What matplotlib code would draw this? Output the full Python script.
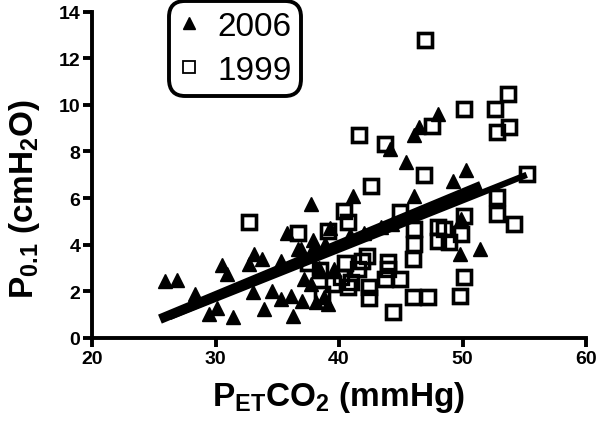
import matplotlib
matplotlib.use("Agg")
import matplotlib.pyplot as plt
import numpy as np

plt.rcParams['font.family'] = ['Liberation Sans', 'DejaVu Sans']
plt.rcParams['mathtext.fontset'] = 'custom'
plt.rcParams['mathtext.rm'] = 'Liberation Sans:bold'
plt.rcParams['mathtext.bf'] = 'Liberation Sans:bold'
plt.rcParams['mathtext.it'] = 'Liberation Sans:bold'

# 2006 (triangles)
x2006 = [25.9, 26.9, 29.5, 30.1, 31.4, 30.5, 30.9, 32.7, 33.1, 33.8, 35.3, 35.8,
         36.7, 33.9, 35.3, 36.1, 36.3, 33.0, 36.9, 38.0, 38.9, 37.7, 41.1, 37.0,
         38.1, 38.8, 39.1, 37.2, 37.7, 39.6, 46.1, 49.2, 50.3, 48.0, 46.5, 46.1,
         44.1, 45.4, 49.8, 51.4, 49.9, 40.9, 39.3, 37.9, 43.4, 44.3, 42.0, 38.4,
         34.6, 28.3]
y2006 = [2.45, 2.5, 1.05, 1.3, 0.9, 3.13, 2.75, 3.18, 3.6, 3.4, 3.3, 4.5,
         3.8, 1.25, 1.67, 1.8, 0.95, 1.97, 3.8, 3.96, 4.03, 5.75, 6.1, 1.6,
         1.54, 1.76, 1.46, 2.53, 2.3, 2.96, 6.1, 6.75, 7.2, 9.6, 9.04, 8.7,
         8.1, 7.55, 3.6, 3.8, 5.1, 4.4, 4.7, 4.2, 4.76, 4.9, 4.5, 3.0,
         2.0, 1.9]

# 1999 (open squares)
x1999 = [32.7, 36.7, 42.6, 40.4, 39.1, 40.7, 42.3, 44.0, 40.2, 41.0, 42.4, 42.4,
         44.0, 44.4, 40.7, 41.5, 46.9, 44.9, 50.1, 48.0, 48.5, 49.9, 48.0, 48.9,
         46.1, 46.0, 44.9, 43.7, 50.1, 46.0, 47.2, 49.8, 46.1, 50.1, 47.5, 41.6,
         43.7, 47.0, 53.7, 52.6, 52.8, 53.8, 55.2, 52.8, 52.8, 54.2, 38.5, 39.5,
         38.6, 37.5, 40.5, 41.9]
y1999 = [4.96, 4.5, 6.5, 5.46, 4.6, 4.97, 3.5, 3.25, 2.6, 2.4, 2.2, 1.7,
         2.96, 1.1, 2.2, 2.96, 6.97, 5.4, 5.25, 4.75, 4.68, 4.46, 4.18, 4.1,
         4.03, 3.39, 2.53, 2.53, 2.6, 1.76, 1.76, 1.8, 4.68, 9.8, 9.1, 8.7,
         8.3, 12.76, 10.47, 9.8, 8.84, 9.05, 7.04, 6.05, 5.3, 4.9, 2.9, 2.3,
         1.9, 3.2, 3.2, 3.3]

# regression lines: [x_start, x_end], slope, intercept
fit2006_x = [25.5, 51.5]
fit2006_coef = [0.22, -4.8]
fit1999_x = [26.3, 55.2]
fit1999_coef = [0.211, -4.65]

fig = plt.figure(figsize=(6, 4.27), dpi=100)
ax = fig.add_axes([92 / 600, 1 - 339 / 427, (586 - 92) / 600, (339 - 12.5) / 427])

ax.plot(x2006, y2006, linestyle='none', marker='^', ms=10, color='black', zorder=3)
ax.plot(x1999, y1999, linestyle='none', marker='s', ms=10, mfc='white',
        mec='black', mew=2.4, zorder=2)
ax.plot(x1999, y1999, linestyle='none', marker='s', ms=10, mfc='none',
        mec='black', mew=2.4, zorder=4)

fx = np.array(fit2006_x)
ax.plot(fx, np.polyval(fit2006_coef, fx), color='black', lw=7,
        solid_capstyle='butt', zorder=5)
fx = np.array(fit1999_x)
ax.plot(fx, np.polyval(fit1999_coef, fx), color='black', lw=4.5,
        solid_capstyle='butt', zorder=5)

ax.set_xlim(20, 60)
ax.set_ylim(0, 14)
ax.set_xticks([20, 30, 40, 50, 60])
ax.set_yticks(range(0, 15, 2))
for s in ['top', 'right']:
    ax.spines[s].set_visible(False)
for s in ['left', 'bottom']:
    ax.spines[s].set_linewidth(2.8)
ax.tick_params(axis='both', width=2.8, length=6.5, labelsize=14, pad=2)
for lab in ax.get_xticklabels() + ax.get_yticklabels():
    lab.set_fontweight('bold')

ax.set_xlabel(r'P$_{ET}$CO$_2$ (mmHg)', fontsize=24, fontweight='bold', va='center')
ax.set_ylabel(r'P$_{0.1}$ (cmH$_2$O)', fontsize=24, fontweight='bold', va='center')
ax.xaxis.set_label_coords(0.5, -0.178)
ax.yaxis.set_label_coords(-0.136, 0.43)

h1, = ax.plot([], [], linestyle='none', marker='^', ms=8, color='black')
h2, = ax.plot([], [], linestyle='none', marker='s', ms=8, mfc='white',
              mec='black', mew=1.3)
leg = ax.legend([h1, h2], ['2006', '1999'], loc='upper left',
                bbox_to_anchor=(172 / 600, 1 - 5 / 427),
                bbox_transform=fig.transFigure, borderaxespad=0,
                fontsize=24, handlelength=0.6, handletextpad=0.55,
                labelspacing=0.4, borderpad=0.2, fancybox=True,
                framealpha=1, edgecolor='black')
leg.get_frame().set_linewidth(2.8)
leg.get_frame().set_boxstyle('round', pad=0.1, rounding_size=0.5)

fig.savefig('out.png', dpi=100)
